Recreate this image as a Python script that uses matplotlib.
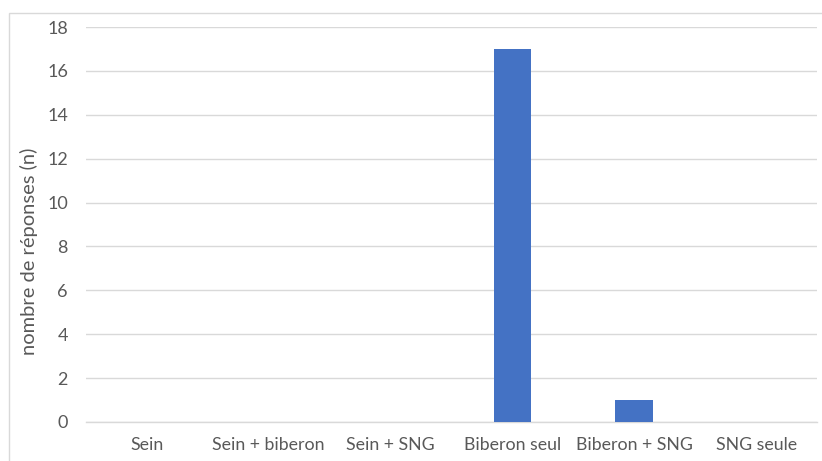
import matplotlib.pyplot as plt
from matplotlib.patches import Rectangle

# réponses par mode d'alimentation
categories = ["Sein", "Sein + biberon", "Sein + SNG", "Biberon seul", "Biberon + SNG", "SNG seule"]
reponses = [0, 0, 0, 17, 1, 0]
yticks = [0, 2, 4, 6, 8, 10, 12, 14, 16, 18]

plt.rcParams['font.family'] = ['Lato', 'DejaVu Sans']
gris = '#595959'

fig = plt.figure(figsize=(8.22, 4.61), dpi=100)
ax = fig.add_axes([86 / 822, 1 - 422 / 461, (817 - 86) / 822, (422 - 27) / 461])

x = range(len(categories))
ax.bar(x, reponses, width=0.31, color='#4472C4', zorder=3)

ax.set_xlim(-0.5, len(categories) - 0.5)
ax.set_ylim(0, 18)
ax.set_yticks(yticks)
ax.set_xticks(list(x))
ax.set_xticklabels(categories)
ax.tick_params(axis='both', length=0, colors=gris)
ax.tick_params(axis='y', pad=13, labelsize=13)
ax.tick_params(axis='x', pad=11, labelsize=12.8)

ax.grid(axis='y', color='#d9d9d9', linewidth=1.0, zorder=0)
for side in ['top', 'right', 'left']:
    ax.spines[side].set_visible(False)
ax.spines['bottom'].set_color('#d9d9d9')
ax.spines['bottom'].set_linewidth(1.0)

ax.set_ylabel("nombre de réponses (n)", fontsize=14.5, color=gris, va='center')
ax.yaxis.set_label_coords(-0.078, 0.433)

# cadre du graphique
fig.patches.append(Rectangle((9 / 822, -0.1), 1.1, 1 - 13 / 461 + 0.1,
                             transform=fig.transFigure, fill=False,
                             edgecolor='#d9d9d9', linewidth=1.0))

fig.savefig('out.png', dpi=100)
